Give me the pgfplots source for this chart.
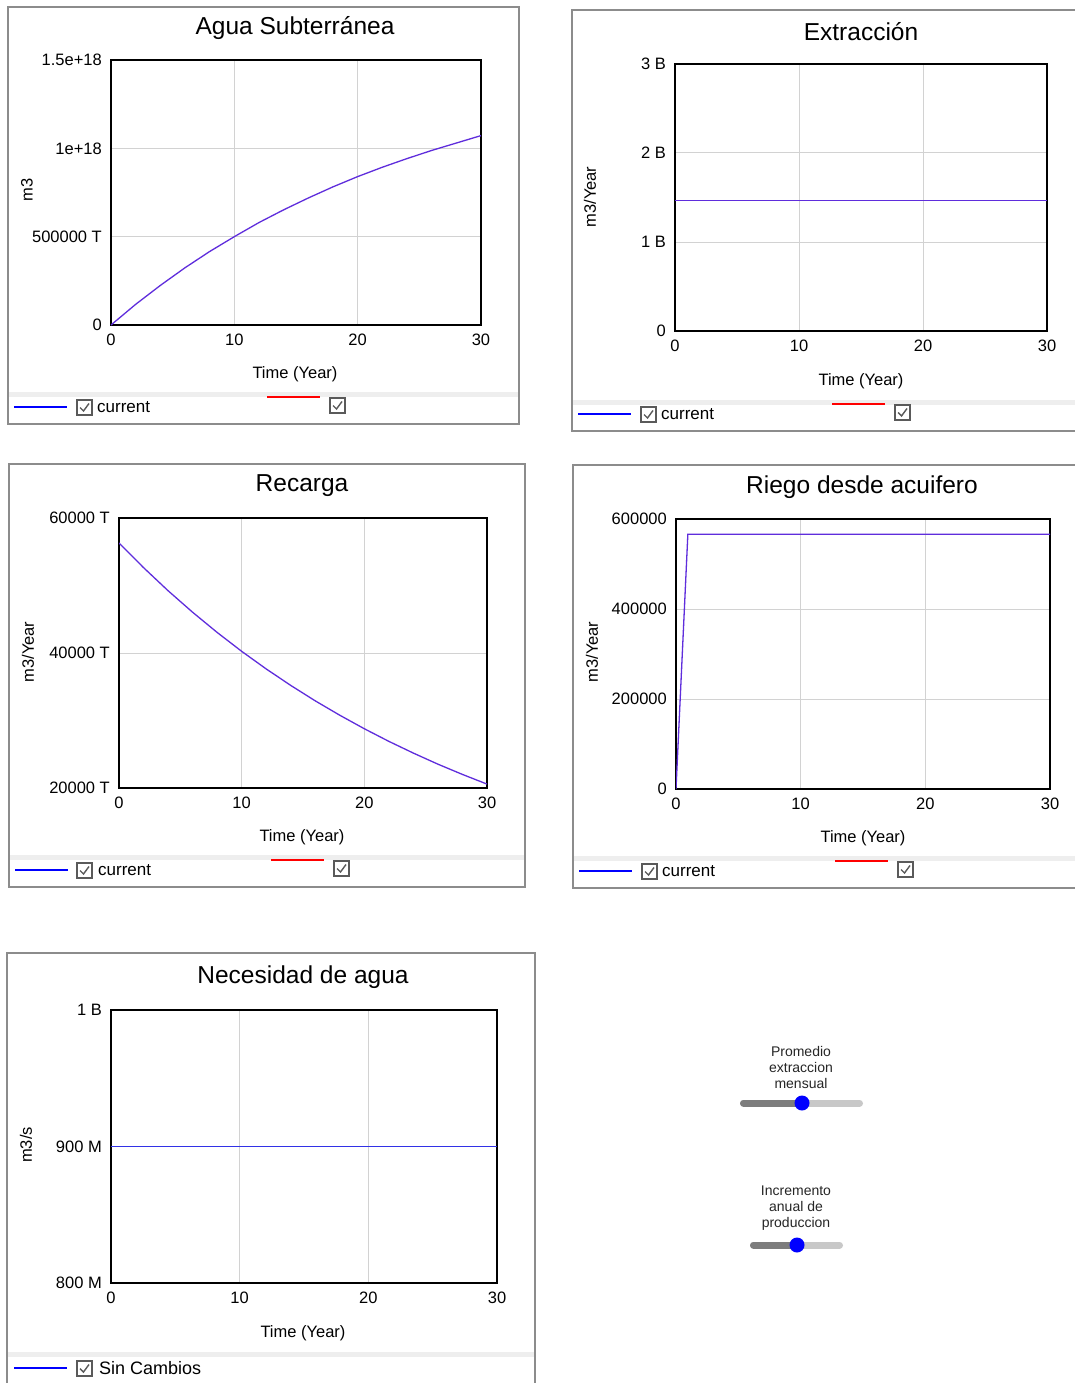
\documentclass[border=0pt]{standalone}
\usepackage{pgfplots}
\pgfplotsset{compat=1.18}
\usepackage{fontspec}
\setmainfont{Liberation Sans}
\definecolor{curvec}{RGB}{95,45,220}
\definecolor{curveb}{RGB}{50,50,230}
\definecolor{framec}{RGB}{140,140,140}
\definecolor{bandc}{RGB}{238,238,238}
\definecolor{gridc}{RGB}{210,210,210}
\definecolor{chkc}{RGB}{90,90,90}
\newcommand\tickfont{\fontsize{16.5}{18}\selectfont}
\newcommand\titlefont{\fontsize{24.5}{27}\selectfont}
\newcommand\legfont{\fontsize{17}{19}\selectfont}
\newcommand\slidfont{\fontsize{14}{16}\selectfont}
\pgfplotsset{
  vpanel/.style={scale only axis, anchor=south west,
    xmin=0, xmax=30, xtick={0,10,20,30}, xticklabels={0,10,20,30},
    scaled y ticks=false, scaled x ticks=false,
    grid=major, grid style={line width=1pt, color=gridc},
    major tick length=0pt,
    axis line style={line width=2pt, black},
    ticklabel style={font=\tickfont, inner sep=0pt, text=black},
    yticklabel style={anchor=east, xshift=-9pt},
    xticklabel style={anchor=north, yshift=-9pt},
  }
}
\newcommand\chk[2]{%
  \draw[chkc, line width=1.1pt, fill=white] (#1,#2) rectangle ({#1+15},{#2+15});
  \draw[chkc, line width=1.4pt] ({#1+3},{#2+7.5}) -- ({#1+6.5},{#2+11}) -- ({#1+12},{#2+3.5});
}
\newcommand\panelframe[4]{%
  \draw[framec, line width=1.6pt, fill=white] (#1,#2) rectangle (#3,#4);
}
\begin{document}
\begin{tikzpicture}[x=1pt, y=-1pt]
\useasboundingbox (0,0) rectangle (1075,1383);
\fill[white] (0,0) rectangle (1075,1383);

% ---------- frames ----------
\panelframe{8}{7}{519}{424}
\panelframe{572}{10}{1085}{431}
\panelframe{9}{464}{525}{887}
\panelframe{573}{465}{1085}{888}
\panelframe{7}{953}{535}{1395}

% ---------- Panel 1: Agua Subterranea ----------
\begin{axis}[vpanel, at={(111pt,-325pt)}, width=370pt, height=265pt,
  ymin=0, ymax=1.5e18, ytick={0,5e17,1e18,1.5e18},
  yticklabels={0,500000 T,1e+18,1.5e+18}]
\addplot[curvec, line width=1.3pt] coordinates {
(0,0) (2,1.17e17) (4,2.24e17) (6,3.24e17) (8,4.16e17) (10,5.0e17)
(12,5.8e17) (14,6.52e17) (16,7.19e17) (18,7.82e17) (20,8.4e17)
(22,8.93e17) (24,9.42e17) (26,9.88e17) (28,1.03e18) (30,1.072e18)};
\end{axis}
\node[font=\titlefont] at (295,28) {Agua Subterránea};
\node[font=\tickfont] at (295,374) {Time (Year)};
\node[font=\tickfont, rotate=90] at (27,190) {m3};
\fill[bandc] (9,392) rectangle (518,397);
\draw[blue, line width=2pt] (14,407) -- (67,407);
\chk{77}{400}
\node[font=\legfont, anchor=west, inner sep=0pt] at (97,407) {current};
\draw[red, line width=1.5pt] (267,397) -- (320,397);
\chk{330}{398}

% ---------- Panel 2: Extraccion ----------
\begin{axis}[vpanel, at={(675pt,-331pt)}, width=372pt, height=267pt,
  ymin=0, ymax=3e9, ytick={0,1e9,2e9,3e9},
  yticklabels={0,1 B,2 B,3 B}]
\addplot[curvec, line width=1.3pt] coordinates {(0,1.47e9) (10,1.47e9) (20,1.47e9) (30,1.47e9)};
\end{axis}
\node[font=\titlefont] at (861,32) {Extracción};
\node[font=\tickfont] at (861,381) {Time (Year)};
\node[font=\tickfont, rotate=90] at (590,197) {m3/Year};
\fill[bandc] (573,400) rectangle (1075,405);
\draw[blue, line width=2pt] (578,414) -- (631,414);
\chk{641}{407}
\node[font=\legfont, anchor=west, inner sep=0pt] at (661,414) {current};
\draw[red, line width=1.5pt] (832,404) -- (885,404);
\chk{895}{405}

% ---------- Panel 3: Recarga ----------
\begin{axis}[vpanel, at={(119pt,-788pt)}, width=368pt, height=270pt,
  ymin=20000, ymax=60000, ytick={20000,40000,60000},
  yticklabels={20000 T,40000 T,60000 T}]
\addplot[curvec, line width=1.3pt] coordinates {
(0,56300) (2,52650) (4,49230) (6,46040) (8,43050) (10,40250)
(12,37640) (14,35200) (16,32910) (18,30780) (20,28780)
(22,26910) (24,25170) (26,23530) (28,22010) (30,20580)};
\end{axis}
\node[font=\titlefont] at (302,486) {Recarga};
\node[font=\tickfont] at (302,837) {Time (Year)};
\node[font=\tickfont, rotate=90] at (28,652) {m3/Year};
\fill[bandc] (10,855) rectangle (524,860);
\draw[blue, line width=2pt] (15,870) -- (68,870);
\chk{77}{863}
\node[font=\legfont, anchor=west, inner sep=0pt] at (98,870) {current};
\draw[red, line width=1.5pt] (271,860) -- (324,860);
\chk{334}{861}

% ---------- Panel 4: Riego desde acuifero ----------
\begin{axis}[vpanel, at={(676pt,-789pt)}, width=374pt, height=270pt,
  ymin=0, ymax=600000, ytick={0,200000,400000,600000},
  yticklabels={0,200000,400000,600000}]
\addplot[curvec, line width=1.3pt] coordinates {(0,0) (0.95,566000) (10,566000) (20,566000) (30,566000)};
\end{axis}
\node[font=\titlefont] at (862,487) {Riego desde acuifero};
\node[font=\tickfont] at (863,838) {Time (Year)};
\node[font=\tickfont, rotate=90] at (592,652) {m3/Year};
\fill[bandc] (574,856) rectangle (1075,861);
\draw[blue, line width=2pt] (579,871) -- (632,871);
\chk{642}{864}
\node[font=\legfont, anchor=west, inner sep=0pt] at (662,871) {current};
\draw[red, line width=1.5pt] (835,861) -- (888,861);
\chk{898}{862}

% ---------- Panel 5: Necesidad de agua ----------
\begin{axis}[vpanel, at={(111pt,-1283pt)}, width=386pt, height=273pt,
  ymin=800e6, ymax=1e9, ytick={800e6,900e6,1e9},
  yticklabels={800 M,900 M,1 B}]
\addplot[curveb, line width=1.3pt] coordinates {(0,900e6) (10,900e6) (20,900e6) (30,900e6)};
\end{axis}
\node[font=\titlefont] at (303,977) {Necesidad de agua};
\node[font=\tickfont] at (303,1333) {Time (Year)};
\node[font=\tickfont, rotate=90] at (26,1145) {m3/s};
\fill[bandc] (8,1352) rectangle (534,1357);
\draw[blue, line width=2pt] (14,1368) -- (67,1368);
\chk{77}{1361}
\node[font=\fontsize{18}{20}\selectfont, anchor=west, inner sep=0pt] at (99,1368) {Sin Cambios};

% ---------- Sliders ----------
\node[font=\slidfont, align=center, text=black!85] at (801,1067) {Promedio\\extraccion\\mensual};
\draw[line width=7pt, line cap=round, color={rgb,255:red,200;green,200;blue,200}] (743.5,1103) -- (859.5,1103);
\draw[line width=7pt, line cap=round, color={rgb,255:red,125;green,125;blue,125}] (743.5,1103) -- (802,1103);
\fill[blue] (802,1103) circle (7.5);
\node[font=\slidfont, align=center, text=black!85] at (796,1208) {Incremento\\anual de\\produccion};
\draw[line width=7pt, line cap=round, color={rgb,255:red,200;green,200;blue,200}] (753.5,1245) -- (839.5,1245);
\draw[line width=7pt, line cap=round, color={rgb,255:red,125;green,125;blue,125}] (753.5,1245) -- (797,1245);
\fill[blue] (797,1245) circle (7.5);
\end{tikzpicture}
\end{document}
